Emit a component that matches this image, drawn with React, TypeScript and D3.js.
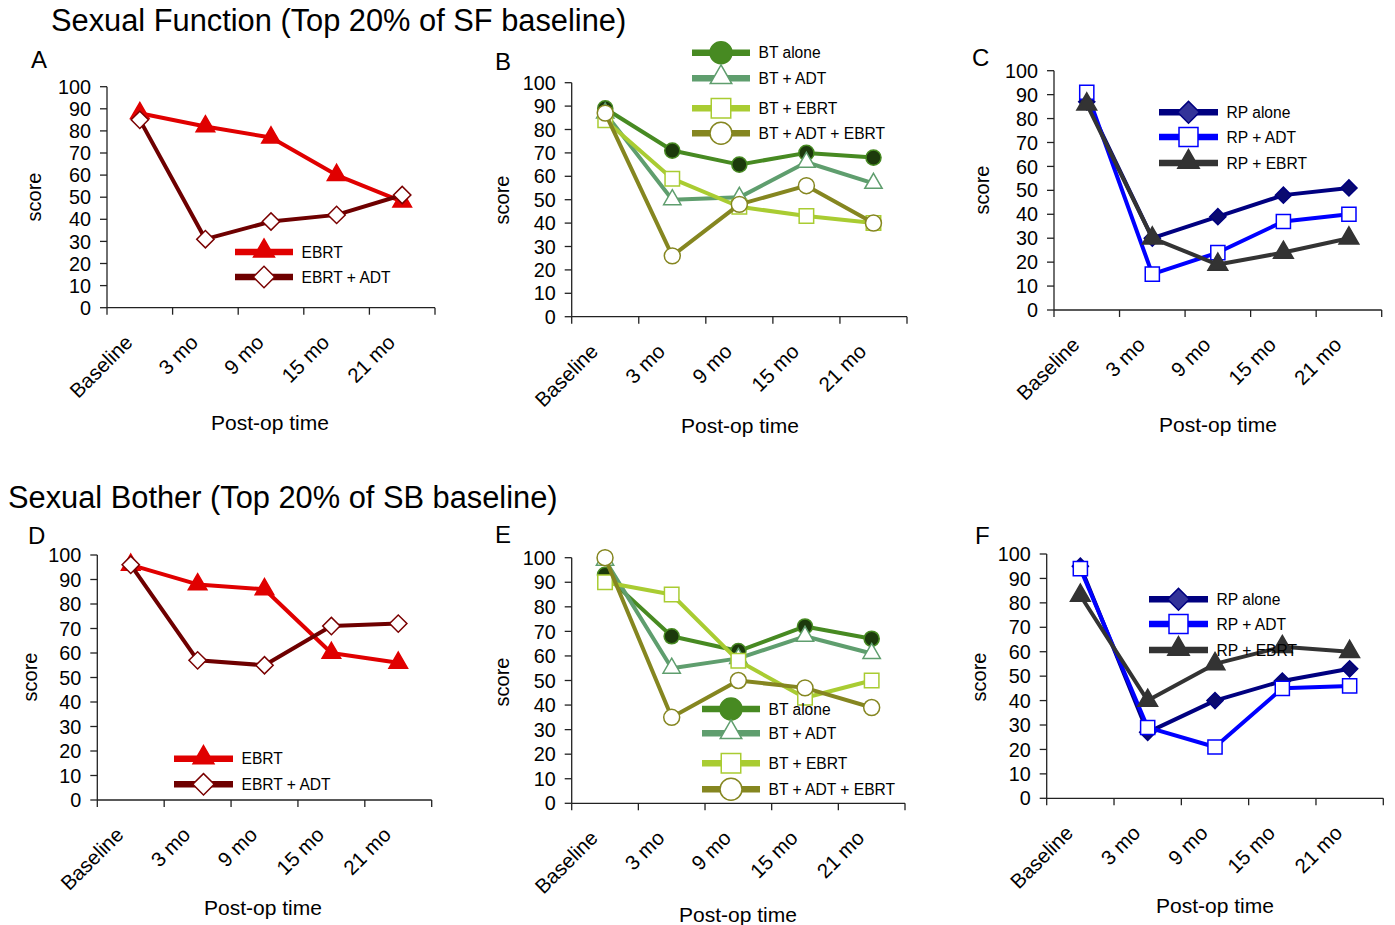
import * as d3 from 'd3'

const months = ['Baseline', '3 mo', '9 mo', '15 mo', '21 mo']
const yTicks = d3.range(0, 101, 10)

// Sexual function (top 20% of SF baseline)
const sfEbrt = [88, 82, 77, 60, 48]
const sfEbrtAdt = [85, 31, 39, 42, 51]
const sfBtAlone = [89, 71, 65, 70, 68]
const sfBtAdt = [87, 50, 51, 66, 57]
const sfBtEbrt = [84, 59, 47, 43, 40]
const sfBtAdtEbrt = [87, 26, 48, 56, 40]
const sfRpAlone = [87, 30, 39, 48, 51]
const sfRpAdt = [91, 15, 24, 37, 40]
const sfRpEbrt = [86, 30, 19, 24, 30]

// Sexual bother (top 20% of SB baseline)
const sbEbrt = [96, 88, 86, 60, 56]
const sbEbrtAdt = [96, 57, 55, 71, 72]
const sbBtAlone = [93, 68, 62, 72, 67]
const sbBtAdt = [99, 55, 59, 68, 61]
const sbBtEbrt = [90, 85, 58, 43, 50]
const sbBtAdtEbrt = [100, 35, 50, 47, 39]
const sbRpAlone = [95, 27, 40, 48, 53]
const sbRpAdt = [94, 29, 21, 45, 46]
const sbRpEbrt = [83, 40, 55, 62, 60]

const font = '"Liberation Sans", Arial, sans-serif'

type Style = { line: string, shape: string, fill: string, stroke: string, legendFill: string, size: number, legendSize: number }

const styles: Record<string, Style> = {
  'EBRT': { line: '#e00000', shape: 'triangle', fill: '#e00000', stroke: '#e00000', legendFill: '#e00000', size: 150, legendSize: 190 },
  'EBRT + ADT': { line: '#6e0000', shape: 'diamond', fill: '#fff', stroke: '#7a0000', legendFill: '#fff', size: 150, legendSize: 230 },
  'BT alone': { line: '#478a22', shape: 'circle', fill: '#1c3a0c', stroke: '#478a22', legendFill: '#478a22', size: 180, legendSize: 380 },
  'BT + ADT': { line: '#5f9e6e', shape: 'triangle', fill: '#fff', stroke: '#5f9e6e', legendFill: '#fff', size: 130, legendSize: 200 },
  'BT + EBRT': { line: '#a9cc32', shape: 'square', fill: '#fff', stroke: '#a9cc32', legendFill: '#fff', size: 210, legendSize: 380 },
  'BT + ADT + EBRT': { line: '#858620', shape: 'circle', fill: '#fff', stroke: '#858620', legendFill: '#fff', size: 200, legendSize: 380 },
  'RP alone': { line: '#000080', shape: 'diamond', fill: '#0a0a70', stroke: '#000080', legendFill: '#333399', size: 130, legendSize: 240 },
  'RP + ADT': { line: '#0000ff', shape: 'square', fill: '#fff', stroke: '#0000ff', legendFill: '#fff', size: 200, legendSize: 360 },
  'RP + EBRT': { line: '#333333', shape: 'triangle', fill: '#333333', stroke: '#333333', legendFill: '#333333', size: 170, legendSize: 200 },
}

const panels = [
  { letter: 'A', x0: 107, x1: 435, yTop: 86.7, yBot: 307.7, letterX: 31, letterY: 68, scoreX: 35, scoreY: 197, postX: 270, postY: 430,
    series: [['EBRT', sfEbrt], ['EBRT + ADT', sfEbrtAdt]], legX: 235, legW: 58, legY: [252, 277] },
  { letter: 'B', x0: 571.7, x1: 907, yTop: 82.7, yBot: 316.7, letterX: 495, letterY: 70, scoreX: 503, scoreY: 200, postX: 740, postY: 433,
    series: [['BT alone', sfBtAlone], ['BT + ADT', sfBtAdt], ['BT + EBRT', sfBtEbrt], ['BT + ADT + EBRT', sfBtAdtEbrt]],
    legX: 692, legW: 58, legY: [52.7, 78.3, 108.3, 133.3] },
  { letter: 'C', x0: 1054, x1: 1381.7, yTop: 70.7, yBot: 310, letterX: 972, letterY: 66, scoreX: 983, scoreY: 190, postX: 1218, postY: 432,
    series: [['RP alone', sfRpAlone], ['RP + ADT', sfRpAdt], ['RP + EBRT', sfRpEbrt]], legX: 1159, legW: 59, legY: [112.3, 137, 163] },
  { letter: 'D', x0: 97.3, x1: 431.7, yTop: 555, yBot: 800, letterX: 28, letterY: 544, scoreX: 31, scoreY: 677, postX: 263, postY: 915,
    series: [['EBRT', sbEbrt], ['EBRT + ADT', sbEbrtAdt]], legX: 174, legW: 59, legY: [758.7, 784.3] },
  { letter: 'E', x0: 571.7, x1: 905, yTop: 557.7, yBot: 803.3, letterX: 495, letterY: 543, scoreX: 503, scoreY: 682, postX: 738, postY: 922,
    series: [['BT alone', sbBtAlone], ['BT + ADT', sbBtAdt], ['BT + EBRT', sbBtEbrt], ['BT + ADT + EBRT', sbBtAdtEbrt]],
    legX: 702, legW: 58, legY: [709, 733.3, 763.3, 789.3] },
  { letter: 'F', x0: 1046.7, x1: 1383.3, yTop: 554, yBot: 798.3, letterX: 975, letterY: 544, scoreX: 980, scoreY: 677, postX: 1215, postY: 913,
    series: [['RP alone', sbRpAlone], ['RP + ADT', sbRpAdt], ['RP + EBRT', sbRpEbrt]], legX: 1149, legW: 59, legY: [599.3, 624, 650] },
]

const markerPath = (shape: string, size: number) => {
  const type = shape === 'triangle' ? d3.symbolTriangle : shape === 'circle' ? d3.symbolCircle : d3.symbolSquare
  return d3.symbol().type(type).size(size)() as string
}

const Marker = ({ st, x, y, legend }: { st: Style, x: number, y: number, legend?: boolean }) => {
  const size = legend ? st.legendSize : st.size
  const rot = st.shape === 'diamond' ? ' rotate(45)' : ''
  const dy = st.shape === 'triangle' && legend ? -1 : 0
  return (
    <path
      d={markerPath(st.shape, size)}
      transform={`translate(${x},${y + dy})${rot}`}
      fill={legend ? st.legendFill : st.fill}
      stroke={st.stroke}
      strokeWidth={1.5}
    />
  )
}

const Panel = ({ p }: { p: any }) => {
  const x = d3.scaleBand().domain(months).range([p.x0, p.x1])
  const y = d3.scaleLinear().domain([0, 100]).range([p.yBot, p.yTop])
  const cx = (i: number) => (x(months[i]) as number) + x.bandwidth() / 2
  const line = d3.line<number>().x((_, i) => cx(i)).y(d => y(d))
  const bounds = months.map(m => x(m) as number).concat([p.x1])

  return (
    <g>
      <text x={p.letterX} y={p.letterY} fontSize={24} fontFamily={font}>{p.letter}</text>

      {/* y axis */}
      <line x1={p.x0} x2={p.x0} y1={p.yTop} y2={p.yBot} stroke='#222' strokeWidth={1.3} />
      {yTicks.map(t => (
        <g key={t}>
          <line x1={p.x0 - 7} x2={p.x0} y1={y(t)} y2={y(t)} stroke='#222' strokeWidth={1.3} />
          <text x={p.x0 - 16} y={y(t)} dy='0.36em' textAnchor='end' fontSize={19.8} fontFamily={font}>{t}</text>
        </g>
      ))}

      {/* x axis */}
      <line x1={p.x0} x2={p.x1} y1={p.yBot} y2={p.yBot} stroke='#222' strokeWidth={1.3} />
      {bounds.map((b, i) => (
        <line key={i} x1={b} x2={b} y1={p.yBot} y2={p.yBot + 7} stroke='#222' strokeWidth={1.3} />
      ))}
      {months.map((m, i) => (
        <text key={m} textAnchor='end' fontSize={20.5} fontFamily={font}
          transform={`translate(${cx(i) - 6},${p.yBot + 36}) rotate(-45)`}>{m}</text>
      ))}

      <text transform={`translate(${p.scoreX + 6},${p.scoreY}) rotate(-90)`} textAnchor='middle'
        fontSize={20} fontFamily={font}>score</text>
      <text x={p.postX} y={p.postY} textAnchor='middle' fontSize={21} fontFamily={font}>Post-op time</text>

      {/* series */}
      {p.series.map(([name, vals]: [string, number[]]) => {
        const st = styles[name]
        return (
          <g key={name}>
            <path d={line(vals) as string} fill='none' stroke={st.line} strokeWidth={4} strokeLinejoin='round' />
            {vals.map((v, i) => <Marker key={i} st={st} x={cx(i)} y={y(v)} />)}
          </g>
        )
      })}

      {/* legend */}
      {p.series.map(([name]: [string, number[]], i: number) => {
        const st = styles[name]
        const ly = p.legY[i]
        return (
          <g key={name}>
            <line x1={p.legX} x2={p.legX + p.legW} y1={ly} y2={ly} stroke={st.line} strokeWidth={6.5} />
            <Marker st={st} x={p.legX + p.legW / 2} y={ly} legend />
            <text x={p.legX + p.legW + 8.5} y={ly} dy='0.36em' fontSize={15.6} fontFamily={font}>{name}</text>
          </g>
        )
      })}
    </g>
  )
}

export default function App() {
  return (
    <svg width={1395} height={925} style={{ position: 'absolute', left: 0, top: 0, background: '#fff' }}>
      <text x={51} y={31} fontSize={30.8} fontFamily={font}>Sexual Function (Top 20% of SF baseline)</text>
      <text x={8} y={508} fontSize={30.8} fontFamily={font}>Sexual Bother (Top 20% of SB baseline)</text>
      {panels.map(p => <Panel key={p.letter} p={p} />)}
    </svg>
  )
}
